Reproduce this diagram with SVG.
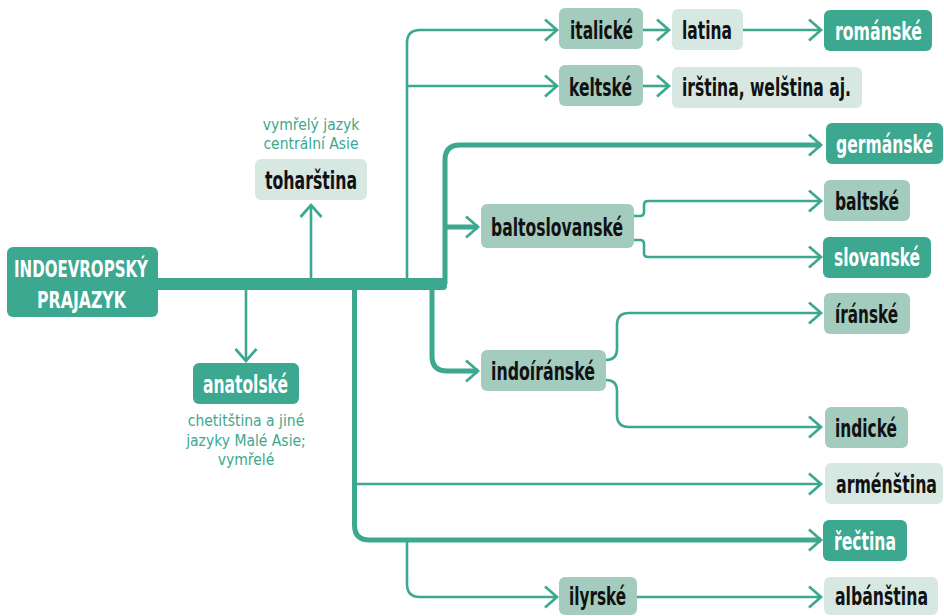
<svg xmlns="http://www.w3.org/2000/svg" width="944" height="616" viewBox="0 0 944 616">
<style>
.dk{fill:#3ba88f}
.md{fill:#a3cbbe}
.lt{fill:#d7e8e2}
.lb{font-family:"Liberation Sans Narrow","DejaVu Sans Condensed","Roboto",sans-serif;font-weight:bold;font-size:24px;fill:#111}
.lw{fill:#fff}
.an{font-family:"Liberation Sans Narrow","DejaVu Sans Condensed","Open Sans",sans-serif;font-size:15.5px;fill:#3ba88f;text-anchor:middle}
.c{fill:none;stroke:#3ba88f;stroke-width:2.6}
.t{fill:none;stroke:#3ba88f;stroke-width:5}
</style>
<defs>
<marker id="arr" markerUnits="userSpaceOnUse" markerWidth="30" markerHeight="30" viewBox="-15 -15 30 30" refX="0" refY="0" orient="auto" overflow="visible">
<path d="M-12,-10.5 L0,0 L-12,10.5" fill="none" stroke="#3ba88f" stroke-width="2.7"/>
</marker>
</defs>
<g id="connectors">
<path class="dk" d="M157,278 H443 Q447,278 447,282 V286 Q447,290 443,290 H157 Z"/>
<path class="t" d="M445,284 V160 Q445,145 460,145 H821" marker-end="url(#arr)"/>
<path class="t" d="M445,227 H478" marker-end="url(#arr)"/>
<path class="t" d="M432,284 V356 Q432,371 447,371 H478" marker-end="url(#arr)"/>
<path class="t" d="M354.5,284 V525 Q354.5,540 369.5,540 H821" marker-end="url(#arr)"/>
<path class="c" d="M354.5,484 H821" marker-end="url(#arr)"/>
<path class="c" d="M407,540 V584 Q407,597 420,597 H557" marker-end="url(#arr)"/>
<path class="c" d="M637,597 H821" marker-end="url(#arr)"/>
<path class="c" d="M407,284 V43 Q407,30 420,30 H557" marker-end="url(#arr)"/>
<path class="c" d="M407,86 H557" marker-end="url(#arr)"/>
<path class="c" d="M643,30 H669" marker-end="url(#arr)"/>
<path class="c" d="M743,30 H821" marker-end="url(#arr)"/>
<path class="c" d="M643,86 H669" marker-end="url(#arr)"/>
<path class="c" d="M311,284 V205" marker-end="url(#arr)"/>
<path class="c" d="M246,284 V361" marker-end="url(#arr)"/>
<path class="c" d="M634,216 H640 Q644,216 644,212 V205 Q644,201 648,201 H821" marker-end="url(#arr)"/>
<path class="c" d="M634,240 H640 Q644,240 644,244 V253 Q644,257 648,257 H821" marker-end="url(#arr)"/>
<path class="c" d="M606,360 Q617,360 617,349 V325 Q617,313 629,313 H821" marker-end="url(#arr)"/>
<path class="c" d="M606,380 Q617,380 617,391 V415 Q617,427 629,427 H821" marker-end="url(#arr)"/>
</g>
<g id="root"><rect class="dk" x="7" y="247" width="151" height="70" rx="6"/>
<text class="lb lw" x="14" y="277" textLength="134" lengthAdjust="spacingAndGlyphs" style="font-size:23px">INDOEVROPSKÝ</text>
<text class="lb lw" x="37" y="308" textLength="89" lengthAdjust="spacingAndGlyphs" style="font-size:23px">PRAJAZYK</text></g>
<g id="tocharian"><text class="an" x="311" y="130">vymřelý jazyk</text><text class="an" x="311" y="149">centrální Asie</text>
<rect class="lt" x="255" y="159" width="112" height="41" rx="6"/><text class="lb" x="265" y="189" textLength="92" lengthAdjust="spacingAndGlyphs">toharština</text></g>
<g id="anatolian"><rect class="dk" x="193" y="363" width="106" height="41" rx="6"/><text class="lb lw" x="203" y="393" textLength="85" lengthAdjust="spacingAndGlyphs">anatolské</text>
<text class="an" x="246" y="426">chetitština a jiné</text><text class="an" x="246" y="446">jazyky Malé Asie;</text><text class="an" x="246" y="465">vymřelé</text></g>
<g id="italic"><rect class="md" x="559" y="8" width="84" height="41" rx="6"/><text class="lb" x="570" y="39" textLength="63" lengthAdjust="spacingAndGlyphs">italické</text></g>
<g id="latin"><rect class="lt" x="672" y="9" width="71" height="41" rx="6"/><text class="lb" x="682" y="39" textLength="50" lengthAdjust="spacingAndGlyphs">latina</text></g>
<g id="romance"><rect class="dk" x="824" y="10" width="108" height="41" rx="6"/><text class="lb lw" transform="translate(835,40) scale(0.72,1)" textLength="120.8" lengthAdjust="spacingAndGlyphs">románské</text></g>
<g id="celtic"><rect class="md" x="559" y="65" width="84" height="41" rx="6"/><text class="lb" x="569" y="96" textLength="63" lengthAdjust="spacingAndGlyphs">keltské</text></g>
<g id="irish"><rect class="lt" x="672" y="67" width="190" height="41" rx="6"/><text class="lb" x="682" y="96" textLength="169" lengthAdjust="spacingAndGlyphs">irština, welština aj.</text></g>
<g id="germanic"><rect class="dk" x="826" y="123" width="117" height="41" rx="6"/><text class="lb lw" transform="translate(836,153) scale(0.72,1)" textLength="134.7" lengthAdjust="spacingAndGlyphs">germánské</text></g>
<g id="baltoslavic"><rect class="md" x="481" y="204" width="153" height="44" rx="6"/><text class="lb" x="491" y="236" textLength="132" lengthAdjust="spacingAndGlyphs">baltoslovanské</text></g>
<g id="baltic"><rect class="md" x="824" y="180" width="86" height="41" rx="6"/><text class="lb" transform="translate(835,210) scale(0.72,1)" textLength="88.9" lengthAdjust="spacingAndGlyphs">baltské</text></g>
<g id="slavic"><rect class="dk" x="823" y="237" width="108" height="41" rx="6"/><text class="lb lw" transform="translate(834,266) scale(0.72,1)" textLength="119.4" lengthAdjust="spacingAndGlyphs">slovanské</text></g>
<g id="iranian"><rect class="md" x="824" y="293" width="86" height="41" rx="6"/><text class="lb" transform="translate(835,323) scale(0.72,1)" textLength="87.5" lengthAdjust="spacingAndGlyphs">íránské</text></g>
<g id="indoiranian"><rect class="md" x="481" y="350" width="125" height="41" rx="6"/><text class="lb" x="491" y="380" textLength="104" lengthAdjust="spacingAndGlyphs">indoíránské</text></g>
<g id="indic"><rect class="md" x="825" y="407" width="83" height="41" rx="6"/><text class="lb" transform="translate(835,437) scale(0.72,1)" textLength="86.1" lengthAdjust="spacingAndGlyphs">indické</text></g>
<g id="armenian"><rect class="lt" x="825" y="463" width="118" height="41" rx="6"/><text class="lb" transform="translate(836,493) scale(0.72,1)" textLength="140.3" lengthAdjust="spacingAndGlyphs">arménština</text></g>
<g id="greek"><rect class="dk" x="823" y="520" width="84" height="41" rx="6"/><text class="lb lw" transform="translate(834,550) scale(0.72,1)" textLength="86.1" lengthAdjust="spacingAndGlyphs">řečtina</text></g>
<g id="illyrian"><rect class="md" x="559" y="577" width="78" height="38" rx="6"/><text class="lb" x="569" y="605" textLength="57" lengthAdjust="spacingAndGlyphs">ilyrské</text></g>
<g id="albanian"><rect class="lt" x="824" y="577" width="114" height="38" rx="6"/><text class="lb" transform="translate(835,605) scale(0.72,1)" textLength="129.2" lengthAdjust="spacingAndGlyphs">albánština</text></g>
</svg>
